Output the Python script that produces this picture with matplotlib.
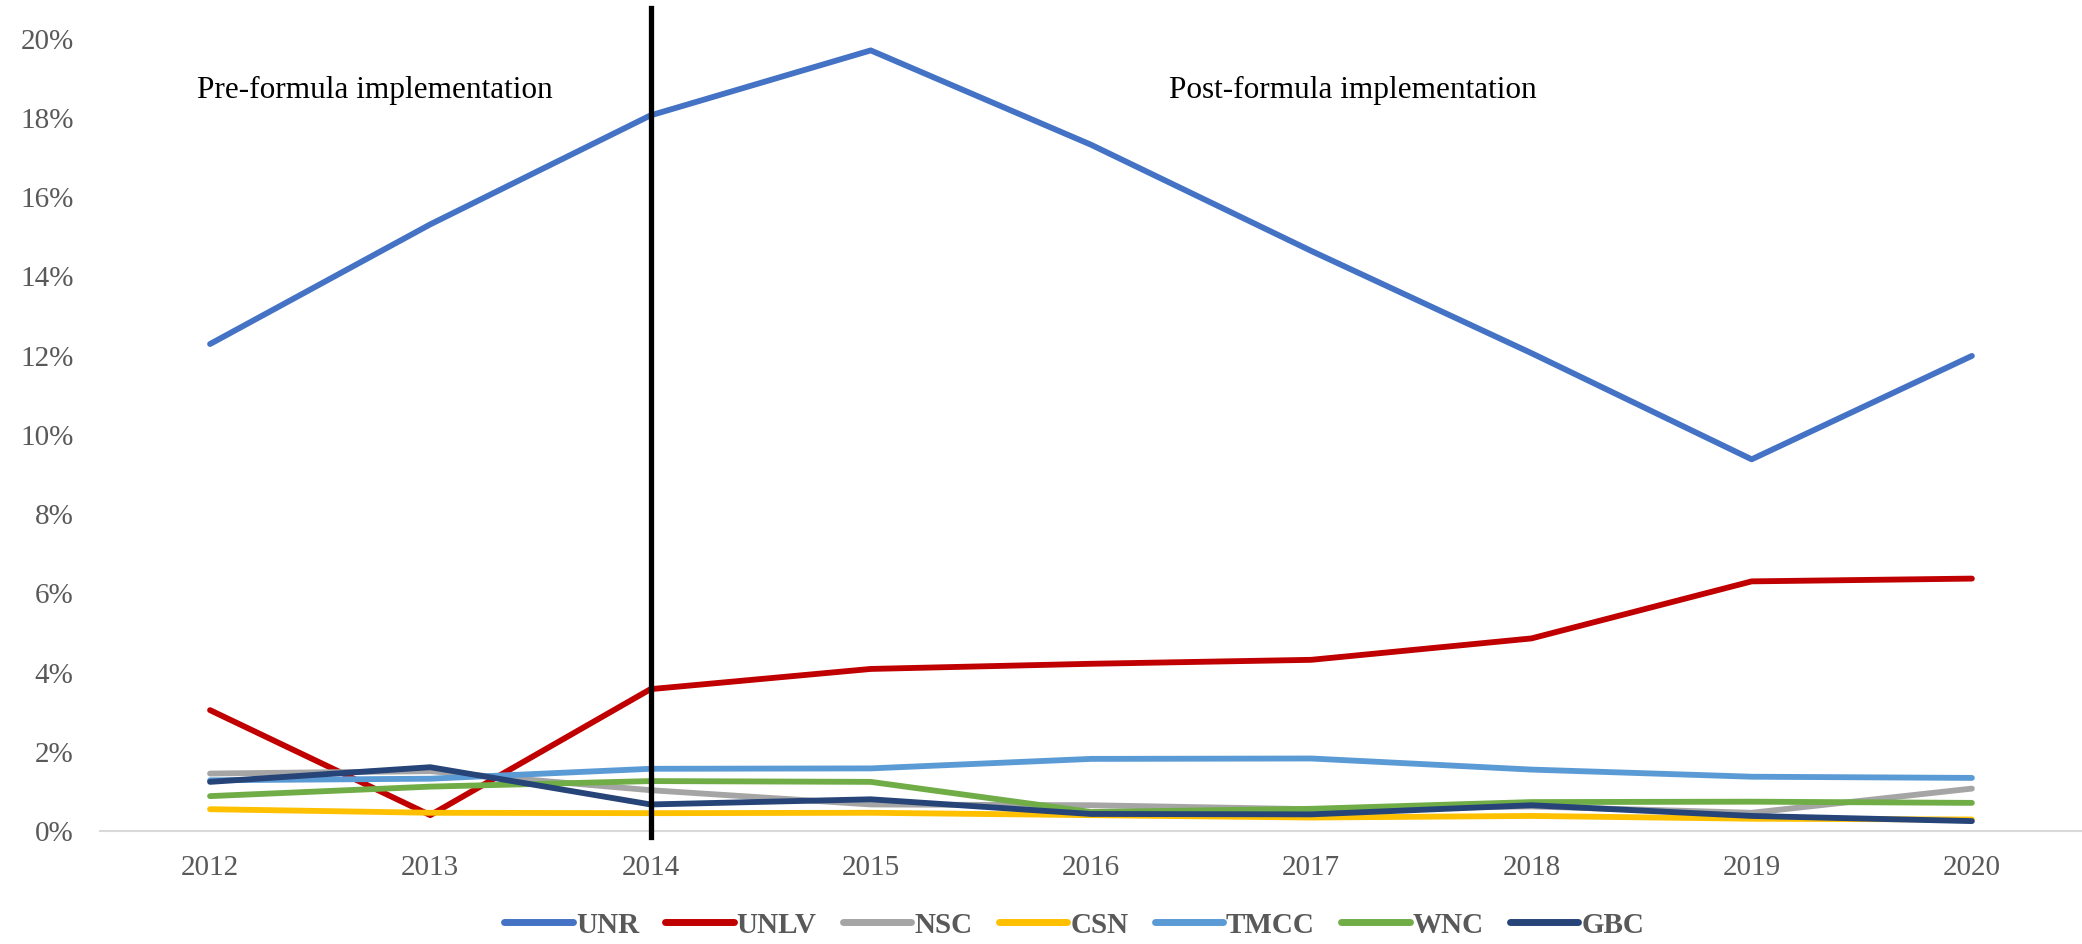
import matplotlib.pyplot as plt
from matplotlib.ticker import PercentFormatter

years = ['2012', '2013', '2014', '2015', '2016', '2017', '2018', '2019', '2020']

# share of funding by institution (fraction)
unr = [0.1229, 0.1531, 0.1806, 0.1970, 0.1732, 0.1464, 0.1206, 0.0938, 0.1199]
unlv = [0.0305, 0.0040, 0.0358, 0.0409, 0.0422, 0.0432, 0.0486, 0.0630, 0.0637]
nsc = [0.0145, 0.0151, 0.0103, 0.0067, 0.0065, 0.0055, 0.0062, 0.0046, 0.0107]
csn = [0.0055, 0.0046, 0.0045, 0.0046, 0.0040, 0.0034, 0.0038, 0.0031, 0.0029]
tmcc = [0.0128, 0.0132, 0.0157, 0.0158, 0.0182, 0.0183, 0.0155, 0.0137, 0.0134]
wnc = [0.0088, 0.0112, 0.0126, 0.0124, 0.0048, 0.0056, 0.0073, 0.0074, 0.0071]
gbc = [0.0124, 0.0161, 0.0067, 0.0080, 0.0043, 0.0042, 0.0065, 0.0038, 0.0025]

series = [
    ('UNR', unr, '#4472C4'),
    ('UNLV', unlv, '#C00000'),
    ('NSC', nsc, '#A5A5A5'),
    ('CSN', csn, '#FFC000'),
    ('TMCC', tmcc, '#5B9BD5'),
    ('WNC', wnc, '#70AD47'),
    ('GBC', gbc, '#264478'),
]

plt.rcParams['font.family'] = ['Liberation Serif', 'DejaVu Serif']

fig = plt.figure(figsize=(20.82, 9.44), dpi=100)
ax = fig.add_axes([0.048, 0.1197, 0.952, 0.8395])

x = range(len(years))
for name, vals, color in series:
    ax.plot(x, vals, color=color, linewidth=4.2, label=name,
            solid_capstyle='round', solid_joinstyle='round')

# implementation marker
ax.plot([2, 2], [-0.0015, 0.2078], color='black', linewidth=3.8, clip_on=False, zorder=5)

ax.text(0.75, 0.1868, 'Pre-formula implementation', fontsize=22.5, va='center', ha='center')
ax.text(5.19, 0.1868, 'Post-formula implementation', fontsize=22.5, va='center', ha='center')

ax.set_xlim(-0.5, 8.5)
ax.set_ylim(0, 0.20)
ax.set_xticks(list(x))
ax.set_xticklabels(years)
ax.set_yticks([i * 0.02 for i in range(11)])
ax.yaxis.set_major_formatter(PercentFormatter(1.0, decimals=0))
ax.tick_params(axis='both', length=0, labelsize=21, labelcolor='#595959')
ax.tick_params(axis='x', pad=17)
ax.tick_params(axis='y', pad=19)

for side in ['top', 'right', 'left']:
    ax.spines[side].set_visible(False)
ax.spines['bottom'].set_color('#D9D9D9')
ax.spines['bottom'].set_linewidth(1.5)

leg = fig.legend(loc='center', bbox_to_anchor=(0.516, 0.02), ncol=7, frameon=False,
                 fontsize=21, handlelength=2.35, handletextpad=0.1, columnspacing=0.9)
for line in leg.get_lines():
    line.set_linewidth(5)
for t in leg.get_texts():
    t.set_color('#595959')
    t.set_fontweight('bold')

fig.savefig('out.png', dpi=100)
